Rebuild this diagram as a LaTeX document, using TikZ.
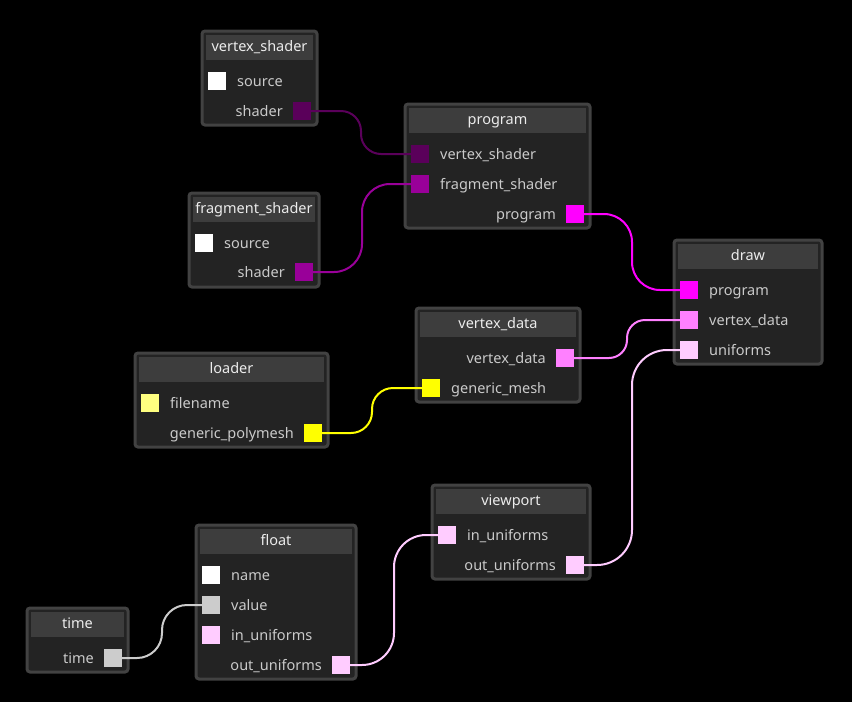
\documentclass[tikz,border=0pt]{standalone}
\usepackage{fontspec}
\setmainfont{Noto Sans}
\usetikzlibrary{calc}
\definecolor{nodebody}{HTML}{232323}
\definecolor{nodeedge}{HTML}{424242}
\definecolor{nodehead}{HTML}{3D3D3D}
\definecolor{titletext}{HTML}{ECECEC}
\definecolor{rowtext}{HTML}{CACACA}
\definecolor{pshader}{HTML}{5A005A}
\definecolor{pfrag}{HTML}{990099}
\definecolor{pprog}{HTML}{FF00FF}
\definecolor{pvdata}{HTML}{FF80FF}
\definecolor{puni}{HTML}{FFCCFF}
\definecolor{pmesh}{HTML}{FFFF00}
\definecolor{pfile}{HTML}{FFFF80}
\definecolor{pval}{HTML}{CCCCCC}
\tikzset{
  frame/.style={draw=nodeedge, fill=nodebody, line width=3pt, rounded corners=3pt},
  head/.style={fill=nodehead},
  ttl/.style={text=titletext, font=\fontsize{14.5}{17}\selectfont, inner sep=0pt, text height=10pt, text depth=3pt, yshift=-1.2pt},
  lblin/.style={text=rowtext, font=\fontsize{14.5}{17}\selectfont, inner sep=0pt, text height=10pt, text depth=3pt, yshift=-1.8pt, anchor=west},
  lblout/.style={lblin, anchor=east},
  port/.style={fill=#1, minimum size=18pt, inner sep=0pt, outer sep=0pt},
  wire/.style={draw=#1, line width=2pt}
}
\begin{document}
\begin{tikzpicture}[x=1pt, y=-1pt]
  \fill[black] (0,0) rectangle (852,702);
  \useasboundingbox (0,0) rectangle (852,702);

  % vertex_shader
  \draw[frame] (202,31) rectangle (317,125);
  \fill[head] (206,35) rectangle (313,60);
  \node[ttl] (vstitle) at (259.5,47) {vertex\_shader};
  \node[port=white] (vssrc) at (217,81) {};
  \node[lblin] (vssrcl) at (237,81) {source};
  \node[port=pshader] (vsout) at (302,111) {};
  \node[lblout] (vsoutl) at (283,111) {shader};

  % program
  \draw[frame] (405,104) rectangle (590,228);
  \fill[head] (409,108) rectangle (586,133);
  \node[ttl] (prtitle) at (497.5,120) {program};
  \node[port=pshader] (prvs) at (420,154) {};
  \node[lblin] (prvsl) at (440,154) {vertex\_shader};
  \node[port=pfrag] (prfs) at (420,184) {};
  \node[lblin] (prfsl) at (440,184) {fragment\_shader};
  \node[port=pprog] (prout) at (575,214) {};
  \node[lblout] (proutl) at (556,214) {program};

  % fragment_shader
  \draw[frame] (189,193) rectangle (319,287);
  \fill[head] (193,197) rectangle (315,222);
  \node[ttl] (fstitle) at (254,209) {fragment\_shader};
  \node[port=white] (fssrc) at (204,243) {};
  \node[lblin] (fssrcl) at (224,243) {source};
  \node[port=pfrag] (fsout) at (304,272) {};
  \node[lblout] (fsoutl) at (285,272) {shader};

  % draw
  \draw[frame] (674,240) rectangle (822,364);
  \fill[head] (678,244) rectangle (818,269);
  \node[ttl] (drtitle) at (748,256) {draw};
  \node[port=pprog] (drprog) at (689,290) {};
  \node[lblin] (drprogl) at (709,290) {program};
  \node[port=pvdata] (drvd) at (689,320) {};
  \node[lblin] (drvdl) at (709,320) {vertex\_data};
  \node[port=puni] (druni) at (689,350) {};
  \node[lblin] (drunil) at (709,350) {uniforms};

  % vertex_data
  \draw[frame] (416,308) rectangle (580,402);
  \fill[head] (420,312) rectangle (576,337);
  \node[ttl] (vdtitle) at (498,324) {vertex\_data};
  \node[port=pvdata] (vdout) at (565,358) {};
  \node[lblout] (vdoutl) at (546,358) {vertex\_data};
  \node[port=pmesh] (vdmesh) at (431,388) {};
  \node[lblin] (vdmeshl) at (451,388) {generic\_mesh};

  % loader
  \draw[frame] (135,353) rectangle (328,447);
  \fill[head] (139,357) rectangle (324,382);
  \node[ttl] (ldtitle) at (231.5,369) {loader};
  \node[port=pfile] (ldfile) at (150,403) {};
  \node[lblin] (ldfilel) at (170,403) {filename};
  \node[port=pmesh] (ldout) at (313,433) {};
  \node[lblout] (ldoutl) at (294,433) {generic\_polymesh};

  % viewport
  \draw[frame] (432,485) rectangle (590,579);
  \fill[head] (436,489) rectangle (586,514);
  \node[ttl] (vptitle) at (511,501) {viewport};
  \node[port=puni] (vpin) at (447,535) {};
  \node[lblin] (vpinl) at (467,535) {in\_uniforms};
  \node[port=puni] (vpout) at (575,565) {};
  \node[lblout] (vpoutl) at (556,565) {out\_uniforms};

  % float
  \draw[frame] (196,525) rectangle (356,679);
  \fill[head] (200,529) rectangle (352,554);
  \node[ttl] (fltitle) at (276,541) {float};
  \node[port=white] (flname) at (211,575) {};
  \node[lblin] (flnamel) at (231,575) {name};
  \node[port=pval] (flval) at (211,605) {};
  \node[lblin] (flvall) at (231,605) {value};
  \node[port=puni] (flin) at (211,635) {};
  \node[lblin] (flinl) at (231,635) {in\_uniforms};
  \node[port=puni] (flout) at (341,665) {};
  \node[lblout] (floutl) at (322,665) {out\_uniforms};

  % time
  \draw[frame] (27,608) rectangle (128,672);
  \fill[head] (31,612) rectangle (124,637);
  \node[ttl] (tmtitle) at (77.5,624) {time};
  \node[port=pval] (tmout) at (113,658) {};
  \node[lblout] (tmoutl) at (94,658) {time};

  % wires
  \coordinate (w1) at ($(vsout.east)!.5!(prvs.west)$);
  \draw[wire=pshader, rounded corners=20pt] (vsout.east) -- (w1 |- vsout.east) -- (w1 |- prvs.west) -- (prvs.west);
  \coordinate (w2) at ($(fsout.east)!.5!(prfs.west)$);
  \draw[wire=pfrag, rounded corners=28pt] (fsout.east) -- (w2 |- fsout.east) -- (w2 |- prfs.west) -- (prfs.west);
  \coordinate (w3) at ($(prout.east)!.5!(drprog.west)$);
  \draw[wire=pprog, rounded corners=28pt] (prout.east) -- (w3 |- prout.east) -- (w3 |- drprog.west) -- (drprog.west);
  \coordinate (w4) at ($(vdout.east)!.5!(drvd.west)$);
  \draw[wire=pvdata, rounded corners=18pt] (vdout.east) -- (w4 |- vdout.east) -- (w4 |- drvd.west) -- (drvd.west);
  \coordinate (w5) at ($(vpout.east)!.5!(druni.west)$);
  \draw[wire=puni, rounded corners=35pt] (vpout.east) -- (w5 |- vpout.east) -- (w5 |- druni.west) -- (druni.west);
  \coordinate (w6) at ($(ldout.east)!.5!(vdmesh.west)$);
  \draw[wire=pmesh, rounded corners=21pt] (ldout.east) -- (w6 |- ldout.east) -- (w6 |- vdmesh.west) -- (vdmesh.west);
  \coordinate (w7) at ($(flout.east)!.5!(vpin.west)$);
  \draw[wire=puni, rounded corners=32pt] (flout.east) -- (w7 |- flout.east) -- (w7 |- vpin.west) -- (vpin.west);
  \coordinate (w8) at ($(tmout.east)!.5!(flval.west)$);
  \draw[wire=pval, rounded corners=25pt] (tmout.east) -- (w8 |- tmout.east) -- (w8 |- flval.west) -- (flval.west);
\end{tikzpicture}
\end{document}
